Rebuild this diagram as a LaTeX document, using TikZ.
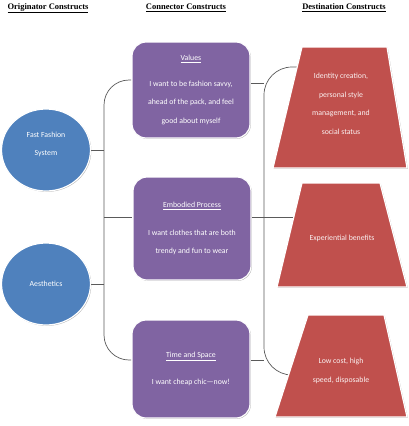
\documentclass[tikz,border=0pt]{standalone}
\usepackage{fontspec}
\setmainfont{Carlito}
\newfontfamily\headfont{Liberation Serif}
\usetikzlibrary{shapes.geometric,backgrounds,shadows}
\definecolor{originblue}{HTML}{4F81BD}
\definecolor{connpurple}{HTML}{8064A2}
\definecolor{destred}{HTML}{C0504D}
\definecolor{ink}{HTML}{5A5A5A}

\begin{document}
\begin{tikzpicture}[
  x=1pt,y=-1pt,
  font=\fontsize{7.8}{18.5}\selectfont,
  header/.style={font=\headfont\bfseries\fontsize{8.5}{10}\selectfont,text=black},
  softshadow/.style={drop shadow={shadow xshift=.8pt,shadow yshift=-.8pt,
                     fill=black,opacity=.3}},
  origin/.style={ellipse,fill=originblue,draw=white,line width=1.2pt,
                 minimum width=89pt,minimum height=82pt,text=white,
                 align=center,softshadow},
  connector/.style={rectangle,rounded corners=14pt,fill=connpurple,draw=white,
                    line width=1.2pt,minimum width=118pt,text=white,
                    align=center,softshadow},
  destshape/.style={fill=destred,draw=white,line width=1.2pt,line join=miter,softshadow},
  desttext/.style={text=white!92!destred,align=center},
  link/.style={draw=ink,line width=.7pt}
]
\useasboundingbox (0,0) rectangle (408,426);

% column headers
\node[header] (hOrig) at (48,8) {\underline{Originator Constructs}};
\node[header] (hConn) at (186,8) {\underline{Connector Constructs}};
\node[header] (hDest) at (344,8) {\underline{Destination Constructs}};

% originator constructs
\node[origin] (fast) at (46,150) {Fast Fashion\\System\\[-6pt]};
\node[origin] (aest) at (46,284) {Aesthetics};

% connector constructs
\node[connector,minimum height=96pt] (values) at (191,90)
  {\underline{Values}\\[7pt]I want to be fashion savvy,\\ahead of the pack, and feel\\good about myself};
\node[connector,minimum height=103pt] (embod) at (192,228.5)
  {\underline{Embodied Process}\\[9pt]I want clothes that are both\\trendy and fun to wear};
\node[connector,minimum height=98pt] (time) at (191,369)
  {\underline{Time and Space}\\[8pt]I want cheap chic—now!};

% destination constructs
\path[destshape] (302,47) -- (387,47) -- (407,168) -- (273,168) -- cycle;
\path[destshape] (302,183) -- (380,183) -- (407,287) -- (277,287) -- cycle;
\path[destshape] (308,315) -- (384,315) -- (407,417) -- (275,417) -- cycle;
\node[desttext] (identity) at (341,104)
  {Identity creation,\\personal style\\management, and\\social status};
\node[desttext] (exper) at (342,238) {Experiential benefits};
\node[desttext] (lowcost) at (341,371) {Low cost, high\\speed, disposable};

% brackets
\coordinate (lspine) at (104,228);
\coordinate (rspine) at (264,228);
\coordinate (idIn) at (300,67);
\coordinate (lowIn) at (294,375);
\coordinate (valL) at ([yshift=10pt]values.west);
\coordinate (valR) at ([yshift=7pt]values.east);
\coordinate (embL) at ([yshift=11.5pt]embod.west);
\coordinate (embR) at ([yshift=11.5pt]embod.east);
\coordinate (timL) at ([yshift=9pt]time.west);
\coordinate (timR) at ([yshift=9pt]time.east);
\begin{scope}[on background layer]
  \draw[link,rounded corners=25pt] (valL) -| (lspine) |- (timL);
  \draw[link] (fast.east) -- (fast.east -| lspine);
  \draw[link] (aest.east) -- (aest.east -| lspine);
  \draw[link] (lspine |- embL) -- (embL);
  \draw[link,rounded corners=28pt] (idIn) -| (rspine) |- (lowIn);
  \draw[link] (valR) -- (valR -| rspine);
  \draw[link] (embR) -- (embR -| exper);
  \draw[link] (timR) -- (timR -| rspine);
\end{scope}
\end{tikzpicture}
\end{document}
